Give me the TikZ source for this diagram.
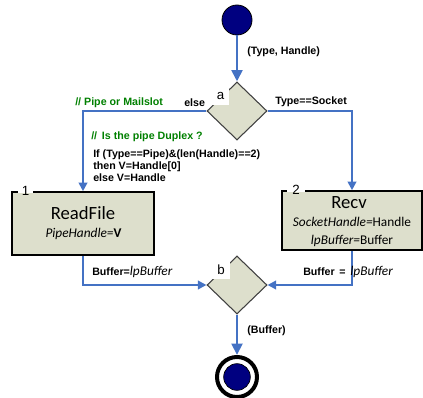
\documentclass[tikz,border=0pt]{standalone}
\usepackage{fontspec}
\setmainfont{Liberation Sans}
\newfontfamily\boxfont{Carlito}
\usetikzlibrary{arrows.meta,shapes.geometric}

\definecolor{flowblue}{RGB}{68,114,196}
\definecolor{boxfill}{RGB}{221,223,204}
\definecolor{notegreen}{RGB}{0,128,0}
\definecolor{navydot}{RGB}{0,0,128}

\begin{document}
\begin{tikzpicture}[x=0.75pt,y=-0.75pt,
  flowthick/.style={draw=flowblue,line width=2.2pt,-{Triangle[length=8.5pt,width=8pt]}},
  flowthin/.style={draw=flowblue,line width=1.5pt,-{Triangle[length=6.5pt,width=6.5pt]}},
  action/.style={draw=black,line width=1.2pt,fill=boxfill,inner sep=0pt},
  decision/.style={diamond,draw=black!75,line width=0.8pt,fill=boxfill,inner sep=0pt,
                   minimum width=45pt,minimum height=43.5pt},
  lbl/.style={font=\bfseries\fontsize{8}{9.6}\selectfont,inner sep=0pt,anchor=west},
  note/.style={lbl,text=notegreen},
  tagtext/.style={font=\fontsize{10}{12}\selectfont,inner sep=0pt},
  title/.style={font=\boxfont\fontsize{14}{16}\selectfont,inner sep=0pt},
  detail/.style={font=\boxfont\fontsize{10}{12}\selectfont,inner sep=0pt},
  notch/.style={fill=white,draw=none,inner sep=0pt}]
\useasboundingbox (0,0) rectangle (423,398);

% start and end states
\node[circle,draw=black,line width=0.6pt,fill=navydot,minimum size=22.5pt,inner sep=0pt] (start) at (237,20) {};
\node[circle,draw=black,line width=3pt,minimum size=30pt,inner sep=0pt] (end) at (237,377) {};
\node[circle,draw=black,line width=0.5pt,fill=navydot,minimum size=20pt,inner sep=0pt] (enddot) at (237,377) {};

% decisions with their corner tags
\node[decision] (a) at (237,111) {};
\node[decision] (b) at (237,285) {};
\node[notch,minimum width=18pt,minimum height=18pt,anchor=south east] (atag) at (229,105.5) {};
\node[tagtext] (alabel) at (220.5,96) {a};
\node[notch,minimum width=18pt,minimum height=18pt,anchor=south east] (btag) at (230,279.5) {};
\node[tagtext] (blabel) at (221,270) {b};

% actions
\node[action,minimum width=106.5pt,minimum height=47.25pt] (rf) at (83,223.5) {};
\node[action,minimum width=105pt,minimum height=44.25pt] (rv) at (352,220.5) {};
\node[notch,minimum width=11.5pt,minimum height=7pt,anchor=south] (rftag) at (25.5,193) {};
\node[tagtext] (rfnum) at (25.5,190.5) {1};
\node[notch,minimum width=13.5pt,minimum height=7pt,anchor=south] (rvtag) at (296,192) {};
\node[tagtext] (rvnum) at (296,189.5) {2};

\node[title] (rftitle) at (83,213.5) {ReadFile};
\node[detail] (rfarg) at (83.5,233.5) {\itshape PipeHandle=\upshape\bfseries V};
\node[title] (rvtitle) at (349,202.5) {Recv};
\node[detail] (rvarg1) at (352,221.5) {\itshape SocketHandle=\upshape Handle};
\node[detail] (rvarg2) at (352,240.5) {\itshape lpBuffer=\upshape Buffer};

% connectors
\draw[flowthick] (start.south) -- (a.north);
\draw[flowthin] (a.west) -| (rf.north);
\draw[flowthin] (a.east) -| (rv.north);
\draw[flowthin] (rf.south) |- (b.west);
\draw[flowthin] (rv.south) |- (b.east);
\draw[flowthick] (b.south) -- (end.north);

% connector labels
\node[lbl] (l1) at (247,52) {(Type, Handle)};
\node[note] (l2) at (75,103) {// Pipe or Mailslot};
\node[lbl] (l3) at (184,103) {else};
\node[lbl] (l4) at (275,102) {Type==Socket};
\node[note] (l5) at (91,137) {//\, Is the pipe Duplex ?};
\node[lbl,align=left,anchor=north west,font=\bfseries\fontsize{8}{8.8}\selectfont] (l6) at (93,150)
  {If (Type==Pipe)\&(len(Handle)==2)\\then V=Handle[0]\\else V=Handle};
\node[lbl] (l7) at (92,271.5) {Buffer={\boxfont\mdseries\itshape\fontsize{10}{12}\selectfont lpBuffer}};
\node[lbl] (l8) at (303,272) {Buffer\, =\, {\boxfont\mdseries\itshape\fontsize{10}{12}\selectfont lpBuffer}};
\node[lbl] (l9) at (247,331) {(Buffer)};
\end{tikzpicture}
\end{document}
